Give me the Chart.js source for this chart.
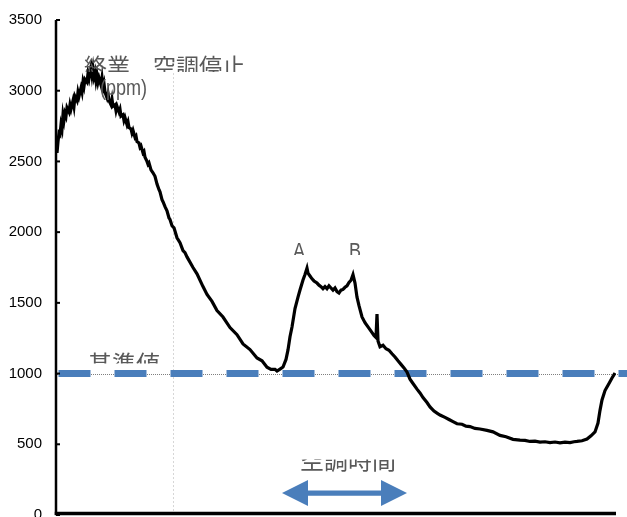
<!DOCTYPE html>
<html lang="ja">
<head>
<meta charset="utf-8">
<title>CO2濃度の推移</title>
<script src="https://cdn.jsdelivr.net/npm/chart.js@4.4.1/dist/chart.umd.min.js"></script>
<style>
  html, body { margin: 0; padding: 0; background: #fff; }
  #wrap { width: 627px; height: 517px; position: relative; }
</style>
</head>
<body>
<div id="wrap"><canvas id="c" width="627" height="517"></canvas></div>
<script>
// Elapsed time (sample steps) and measured CO2 concentration (ppm)
const elapsed = [
  0, 1, 2, 3, 4, 5, 6, 7, 8, 9, 10, 12, 13, 14, 16, 17, 18, 20, 21, 22,
  24, 25, 26, 27, 28, 30, 31, 32, 33, 34, 35, 36, 37, 38, 39, 40, 41, 42, 44, 45,
  46, 47, 48, 50, 51, 52, 54, 55, 56, 58, 59, 60, 62, 63, 64, 66, 67, 68, 70, 71,
  72, 74, 75, 76, 78, 79, 80, 82, 83, 84, 86, 87, 88, 90, 91, 92, 94, 96,
  98, 100, 102, 103, 105, 106, 108, 110, 112, 113, 115, 117, 120, 123, 126, 128, 130,
  136, 140, 146, 150, 155, 160, 166, 173, 180, 186, 193, 200, 205, 210, 214, 218, 220, 223, 226, 229,
  231, 233, 235, 238, 241, 243, 246, 248, 250, 251, 253, 255, 257, 260, 262, 264, 266, 268, 270, 272,
  274, 276, 278, 280, 282, 284, 286, 288, 290, 292, 294, 296, 298, 300, 302, 305, 308, 311, 314, 317,
  319, 320, 321, 323, 326, 329, 332, 335, 338, 341, 344, 347, 350, 353, 356, 360, 363, 366, 370, 373,
  377, 380, 383, 388, 392, 396, 400, 405, 409, 413, 418, 423, 430, 436, 443, 449, 456, 463, 468, 473,
  478, 483, 488, 493, 498, 503, 508, 513, 517, 520, 525, 530, 534, 538, 541, 543, 545, 548, 550, 552,
  555, 558
];
const co2 = [
  2560, 2640, 2700, 2690, 2760, 2730, 2830, 2790, 2840, 2820, 2880, 2850, 2900, 2870, 2930, 2890, 2960, 2930, 2990, 2960,
  3020, 2990, 3060, 3030, 3080, 3060, 3120, 3090, 3140, 3170, 3110, 3160, 3100, 3130, 3070, 3110, 3060, 3090, 3040, 3090,
  3020, 3050, 2990, 2950, 2980, 2930, 2900, 2940, 2890, 2900, 2860, 2890, 2850, 2870, 2820, 2830, 2790, 2810, 2760, 2780,
  2740, 2730, 2700, 2720, 2670, 2680, 2640, 2630, 2600, 2610, 2560, 2570, 2530, 2500, 2480, 2490, 2440, 2420,
  2395, 2340, 2300, 2285, 2230, 2215, 2180, 2150, 2100, 2090, 2045, 2030, 1960, 1925, 1870, 1855, 1825,
  1750, 1705, 1615, 1560, 1510, 1445, 1400, 1325, 1275, 1210, 1170, 1110, 1090, 1045, 1030, 1030, 1018, 1032, 1046, 1100,
  1167, 1260, 1329, 1460, 1541, 1591, 1662, 1700, 1745, 1710, 1690, 1670, 1655, 1640, 1625, 1615, 1600, 1615, 1600, 1620,
  1605, 1590, 1605, 1580, 1570, 1590, 1595, 1610, 1620, 1645, 1660, 1700, 1640, 1540, 1480, 1400, 1360, 1330, 1300, 1270,
  1255, 1420, 1230, 1190, 1200, 1175, 1165, 1140, 1117, 1090, 1065, 1040, 1010, 960, 930, 890, 863, 830, 795, 764,
  735, 720, 707, 690, 675, 660, 645, 642, 628, 625, 612, 608, 598, 588, 563, 553, 535, 530, 528, 520,
  522, 515, 518, 512, 516, 510, 515, 512, 518, 520, 525, 537, 560, 587, 650, 740, 813, 880, 905, 930,
  969, 1004
];

// Reference level (基準値) and y-axis ticks
const threshold = 1000;
const yTicks = [0, 500, 1000, 1500, 2000, 2500, 3000, 3500];

// Air-conditioning period shown by the double arrow
const acStart = 225;
const acEnd = 350;
const acLevel = 155;

// Dotted vertical guide
const guideT = 116;
const guideTop = 3125;

const LATIN = '22px "Liberation Sans", Arial, sans-serif';
// Text notes: anchor (elapsed, ppm) at left/baseline, visible band relative to baseline,
// horizontal squeeze for the condensed Latin lettering
const notes = [
  { text: '終業　空調停止', t: 27, v: 3111, font: '23px "Noto Sans CJK JP"', squeeze: 1, clipUp: 25, clipDown: -3 },
  { text: '(ppm)', t: 43, v: 2970, font: LATIN, squeeze: 0.82, clipUp: 30, clipDown: 10 },
  { text: 'A', t: 236, v: 1817, font: LATIN, squeeze: 0.82, clipUp: 25, clipDown: -3 },
  { text: 'B', t: 292, v: 1817, font: LATIN, squeeze: 0.82, clipUp: 25, clipDown: -3 },
  { text: '基準値', t: 31, v: 1004, font: '24px "Noto Sans CJK JP"', squeeze: 1, clipUp: 25, clipDown: -9.5 },
  { text: '空調時間', t: 243, v: 325, font: '24px "Noto Sans CJK JP"', squeeze: 1, clipUp: 9.5, clipDown: 8 }
];

const BLUE = '#4a7ebb';

const decorations = {
  id: 'decorations',
  beforeDatasetsDraw(chart) {
    const { ctx, chartArea: a, scales: { x, y } } = chart;
    ctx.save();
    // thin dotted line under the reference dashes
    const yb = Math.round(y.getPixelForValue(threshold)) + 0.5;
    ctx.strokeStyle = '#7f7f7f';
    ctx.lineWidth = 1;
    ctx.setLineDash([1, 1]);
    ctx.beginPath();
    ctx.moveTo(a.left, yb);
    ctx.lineTo(chart.width, yb);
    ctx.stroke();
    // light dotted vertical guide
    const xv = Math.round(x.getPixelForValue(guideT)) + 0.5;
    ctx.strokeStyle = '#d6d6d6';
    ctx.setLineDash([2, 2]);
    ctx.beginPath();
    ctx.moveTo(xv, y.getPixelForValue(guideTop));
    ctx.lineTo(xv, a.bottom);
    ctx.stroke();
    ctx.restore();
  },
  afterDraw(chart) {
    const { ctx, chartArea: a, scales: { x, y } } = chart;
    ctx.save();
    // axes
    ctx.strokeStyle = '#000';
    ctx.lineWidth = 2.5;
    ctx.beginPath();
    ctx.moveTo(a.left - 1, y.getPixelForValue(3500));
    ctx.lineTo(a.left - 1, a.bottom);
    ctx.stroke();
    ctx.lineWidth = 2;
    yTicks.forEach(v => {
      const py = y.getPixelForValue(v);
      ctx.beginPath();
      ctx.moveTo(a.left - 1, py);
      ctx.lineTo(a.left + 3, py);
      ctx.stroke();
    });
    ctx.lineWidth = 3.5;
    ctx.beginPath();
    ctx.moveTo(a.left - 2.25, a.bottom - 1.5);
    ctx.lineTo(a.right, a.bottom - 1.5);
    ctx.stroke();

    // notes
    ctx.fillStyle = '#595959';
    ctx.textBaseline = 'alphabetic';
    ctx.textAlign = 'left';
    notes.forEach(n => {
      const px = x.getPixelForValue(n.t);
      const py = y.getPixelForValue(n.v);
      ctx.save();
      ctx.beginPath();
      ctx.rect(0, py - n.clipUp, chart.width, n.clipUp + n.clipDown);
      ctx.clip();
      ctx.font = n.font;
      ctx.translate(px, py);
      ctx.scale(n.squeeze, 1);
      ctx.fillText(n.text, 0, 0);
      ctx.restore();
    });

    // double-headed arrow for the air-conditioning period
    const x1 = x.getPixelForValue(acStart);
    const x2 = x.getPixelForValue(acEnd);
    const ya = y.getPixelForValue(acLevel);
    const head = 26, half = 13, shaft = 2.7;
    ctx.fillStyle = BLUE;
    ctx.beginPath();
    ctx.moveTo(x1, ya);
    ctx.lineTo(x1 + head, ya - half);
    ctx.lineTo(x1 + head, ya - shaft);
    ctx.lineTo(x2 - head, ya - shaft);
    ctx.lineTo(x2 - head, ya - half);
    ctx.lineTo(x2, ya);
    ctx.lineTo(x2 - head, ya + half);
    ctx.lineTo(x2 - head, ya + shaft);
    ctx.lineTo(x1 + head, ya + shaft);
    ctx.lineTo(x1 + head, ya + half);
    ctx.closePath();
    ctx.fill();
    ctx.restore();
  }
};

const series = elapsed.map((t, i) => ({ x: t, y: co2[i] }));

new Chart(document.getElementById('c'), {
  type: 'line',
  data: {
    datasets: [
      {
        label: 'CO2濃度',
        data: series,
        borderColor: '#000',
        borderWidth: 3.2,
        pointRadius: 0,
        tension: 0,
        fill: false
      },
      {
        label: '基準値',
        data: [{ x: 1.5, y: threshold }, { x: 570, y: threshold }],
        borderColor: BLUE,
        borderWidth: 7,
        borderDash: [32, 24],
        borderCapStyle: 'butt',
        pointRadius: 0,
        fill: false,
        clip: false
      }
    ]
  },
  options: {
    responsive: false,
    animation: false,
    events: [],
    layout: { padding: { top: 20, right: 11, bottom: 2, left: 0 } },
    plugins: { legend: { display: false }, tooltip: { enabled: false } },
    scales: {
      x: {
        type: 'linear',
        display: false,
        min: 0,
        max: 559
      },
      y: {
        min: 0,
        max: 3500,
        afterFit(scale) {
          scale.width = 57;
          scale.paddingTop = 0;
          scale.paddingBottom = 0;
        },
        grid: { display: false, drawTicks: false },
        border: { display: false },
        ticks: {
          stepSize: 500,
          padding: 15,
          color: '#000',
          callback: v => String(v),
          font: { family: '"Liberation Sans", Arial, sans-serif', size: 15 }
        }
      }
    }
  },
  plugins: [decorations]
});
</script>
</body>
</html>
